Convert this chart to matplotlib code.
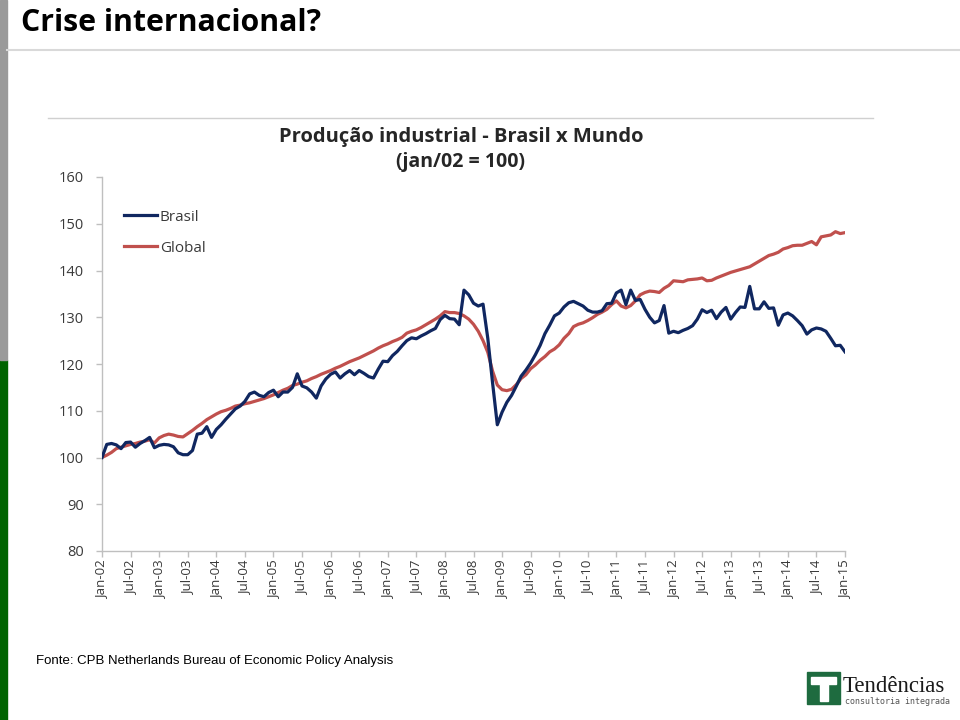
import matplotlib
matplotlib.use("Agg")
import matplotlib.pyplot as plt
from matplotlib.patches import Rectangle, Polygon
from matplotlib.lines import Line2D

# ---------------- data (monthly, Jan-02 .. Jan-15, jan/02 = 100) ----------------
brasil = [
    100.0, 102.8, 103.0, 102.7, 101.9, 103.2, 103.3, 102.2, 103.0, 103.6, 104.3, 102.1,  # 2002
    102.6, 102.8, 102.7, 102.3, 101.0, 100.6, 100.6, 101.5, 105.0, 105.2, 106.6, 104.3,  # 2003
    106.0, 107.0, 108.2, 109.3, 110.4, 111.0, 112.0, 113.6, 114.0, 113.3, 113.0, 113.9,  # 2004
    114.4, 113.0, 114.0, 114.0, 115.0, 117.9, 115.3, 114.9, 114.0, 112.7, 115.3, 116.8,  # 2005
    117.8, 118.3, 117.0, 117.9, 118.6, 117.7, 118.6, 118.0, 117.3, 117.0, 118.9, 120.6,  # 2006
    120.5, 121.8, 122.7, 123.9, 125.0, 125.6, 125.4, 126.0, 126.5, 127.1, 127.6, 129.5,  # 2007
    130.4, 129.7, 129.6, 128.4, 135.8, 134.8, 133.0, 132.4, 132.8, 125.5, 116.0, 107.0,  # 2008
    109.7, 111.8, 113.3, 115.3, 117.4, 118.7, 120.2, 122.0, 124.0, 126.5, 128.3, 130.3,  # 2009
    130.9, 132.2, 133.1, 133.4, 132.9, 132.4, 131.5, 131.1, 131.1, 131.4, 132.9, 133.0,  # 2010
    135.2, 135.8, 132.7, 135.8, 133.6, 133.8, 131.7, 130.0, 128.8, 129.3, 132.5, 126.6,  # 2011
    127.0, 126.7, 127.2, 127.6, 128.2, 129.6, 131.6, 131.0, 131.5, 129.7, 131.1, 132.1,  # 2012
    129.6, 131.0, 132.2, 132.1, 136.6, 131.8, 131.8, 133.3, 131.9, 132.0, 128.3, 130.5,  # 2013
    130.9, 130.3, 129.3, 128.2, 126.4, 127.3, 127.7, 127.5, 127.0, 125.5, 123.9, 124.0,  # 2014
    122.6,                                                                                # 2015
]
global_ = [
    100.0, 100.5, 101.1, 101.9, 102.2, 102.5, 102.8, 103.0, 103.3, 103.5, 103.8, 103.1,  # 2002
    104.2, 104.7, 105.0, 104.8, 104.5, 104.4, 105.1, 105.8, 106.6, 107.3, 108.1, 108.7,  # 2003
    109.3, 109.8, 110.1, 110.5, 111.0, 111.2, 111.5, 111.7, 112.0, 112.3, 112.6, 113.0,  # 2004
    113.4, 113.9, 114.4, 114.8, 115.4, 115.7, 116.1, 116.4, 116.9, 117.3, 117.8, 118.2,  # 2005
    118.6, 119.1, 119.5, 120.0, 120.5, 120.9, 121.3, 121.8, 122.3, 122.8, 123.4, 123.9,  # 2006
    124.3, 124.8, 125.2, 125.7, 126.6, 127.0, 127.3, 127.8, 128.4, 129.0, 129.6, 130.3,  # 2007
    131.2, 131.0, 131.0, 130.8, 130.3, 129.6, 128.5, 127.0, 125.0, 122.5, 118.5, 115.5,  # 2008
    114.5, 114.3, 114.6, 115.6, 116.9, 117.7, 119.0, 119.8, 120.8, 121.6, 122.6, 123.2,  # 2009
    124.1, 125.5, 126.5, 128.0, 128.5, 128.8, 129.3, 129.9, 130.6, 131.1, 131.7, 132.7,  # 2010
    133.5, 132.4, 132.0, 132.5, 133.5, 134.8, 135.3, 135.6, 135.5, 135.3, 136.2, 136.8,  # 2011
    137.8, 137.7, 137.6, 138.0, 138.1, 138.2, 138.4, 137.8, 137.9, 138.4, 138.8, 139.2,  # 2012
    139.6, 139.9, 140.2, 140.5, 140.8, 141.4, 142.0, 142.6, 143.2, 143.5, 143.9, 144.6,  # 2013
    144.9, 145.3, 145.4, 145.4, 145.8, 146.2, 145.5, 147.2, 147.4, 147.6, 148.3, 147.9,  # 2014
    148.1,                                                                                # 2015
]
tick_labels = ["Jan-02", "Jul-02", "Jan-03", "Jul-03", "Jan-04", "Jul-04", "Jan-05",
               "Jul-05", "Jan-06", "Jul-06", "Jan-07", "Jul-07", "Jan-08", "Jul-08",
               "Jan-09", "Jul-09", "Jan-10", "Jul-10", "Jan-11", "Jul-11", "Jan-12",
               "Jul-12", "Jan-13", "Jul-13", "Jan-14", "Jul-14", "Jan-15"]
y_ticks = [80, 90, 100, 110, 120, 130, 140, 150, 160]
series_names = ["Brasil", "Global"]

# ---------------- figure ----------------
W, H = 960, 720
fig = plt.figure(figsize=(W / 100, H / 100), dpi=100)
fig.patch.set_facecolor("white")

def fx(px):
    return px / W

def fy(py):
    return 1 - py / H

FONT = ["Open Sans", "DejaVu Sans"]

# left decorative bar (grey top, green bottom)
fig.patches.append(Rectangle((0, fy(720)), fx(7), fy(360) - fy(720),
                             transform=fig.transFigure, color="#006400", zorder=0))
fig.patches.append(Rectangle((0, fy(360)), fx(7), fy(0) - fy(360),
                             transform=fig.transFigure, color="#9a9a9a", zorder=0))

# slide title + rule
fig.text(fx(21), fy(23), "Crise internacional?", fontsize=21.8, fontweight="bold",
         family=FONT, va="center", ha="left", color="black")
fig.add_artist(Line2D([fx(7), 1], [fy(49.5), fy(49.5)], transform=fig.transFigure,
                      color="#d9d9d9", lw=1.5))

# chart image frame top line
fig.add_artist(Line2D([fx(48), fx(873)], [fy(118), fy(118)], transform=fig.transFigure,
                      color="#d0d0d0", lw=1.0))

# chart titles
fig.text(fx(461), fy(137), "Produção industrial - Brasil x Mundo", fontsize=14.5,
         fontweight="bold", family=FONT, ha="center", va="center", color="#262626")
fig.text(fx(461), fy(162), "(jan/02 = 100)", fontsize=14, fontweight="bold",
         family=FONT, ha="center", va="center", color="#262626")

# ---------------- axes ----------------
ax = fig.add_axes([fx(102), fy(551), fx(845) - fx(102), fy(177) - fy(551)])
x = list(range(len(brasil)))
l1, = ax.plot(x, brasil, color="#102760", lw=2.3, solid_joinstyle="round", zorder=3)
l2, = ax.plot(x, global_, color="#c0504d", lw=2.3, solid_joinstyle="round", zorder=2)

ax.set_xlim(0, len(brasil) - 1)
ax.set_ylim(80, 160)
ax.set_yticks(y_ticks)
ax.set_yticklabels([str(v) for v in y_ticks], fontsize=10.5, color="#3a3a3a", family=FONT)
ax.set_xticks(list(range(0, len(brasil), 6)))
ax.set_xticklabels(tick_labels, rotation=90, fontsize=9.5, color="#3a3a3a", family=FONT)
for s in ["top", "right"]:
    ax.spines[s].set_visible(False)
for s in ["left", "bottom"]:
    ax.spines[s].set_color("#bfbfbf")
    ax.spines[s].set_linewidth(1.0)
ax.tick_params(axis="both", direction="out", length=4, width=1, color="#bfbfbf", pad=3)
ax.tick_params(axis="y", pad=9)
ax.set_facecolor("none")

leg = ax.legend([l1, l2], series_names, loc="upper left",
                bbox_to_anchor=(fx(110), fy(196)), bbox_transform=fig.transFigure,
                frameon=False, handlelength=2.2, handletextpad=0.15, labelspacing=1.05,
                prop={"family": FONT, "size": 11})
for t in leg.get_texts():
    t.set_color("#3a3a3a")

# source
fig.text(fx(36), fy(661), "Fonte: CPB Netherlands Bureau of Economic Policy Analysis",
         fontsize=9.5, family=["Liberation Sans", "DejaVu Sans"], ha="left", va="center",
         color="black")

# logo (bottom right)
logo_green = "#1e6b3f"
fig.patches.append(Rectangle((fx(807), fy(704)), fx(33), fy(672) - fy(704),
                             transform=fig.transFigure, color=logo_green, zorder=1))
tshape = [(811, 677), (836, 677), (836, 684), (828, 684), (828, 701),
          (820, 701), (820, 684), (811, 684)]
fig.patches.append(Polygon([(fx(a), fy(b)) for a, b in tshape], closed=True,
                           transform=fig.transFigure, color="white", zorder=2))
fig.text(fx(843), fy(686), "Tendências", fontsize=16.5,
         family=["Liberation Serif", "DejaVu Serif"], ha="left", va="center", color="#1a1a1a")
fig.text(fx(845), fy(701), "consultoria integrada", fontsize=6,
         family=["DejaVu Sans Mono", "DejaVu Sans"], ha="left", va="center", color="#555555")

fig.savefig("out.png", dpi=100)
